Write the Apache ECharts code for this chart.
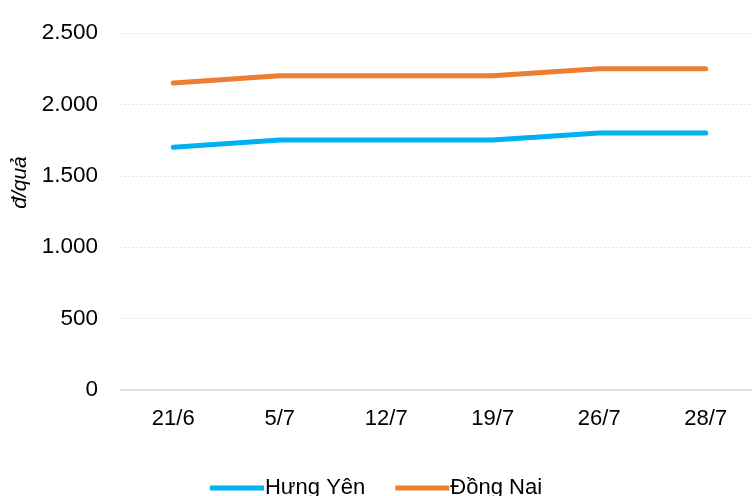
<!DOCTYPE html>
<html>
<head>
<meta charset="utf-8">
<script src="https://cdn.jsdelivr.net/npm/echarts@6/dist/echarts.min.js"></script>
<style>
  html, body { margin: 0; padding: 0; background: #fff; }
  #chart { width: 752px; height: 496px; }
</style>
</head>
<body>
<div id="chart"></div>
<script>
const categories = ['21/6', '5/7', '12/7', '19/7', '26/7', '28/7']
const hungYen = [1700, 1750, 1750, 1750, 1800, 1800]
const dongNai = [2150, 2200, 2200, 2200, 2250, 2250]

const chart = echarts.init(document.getElementById('chart'))
const font = 'Liberation Sans, Arial, sans-serif'

chart.setOption({
  animation: false,
  grid: {
    left: 120,
    right: -7,
    top: 33,
    bottom: 106,
    containLabel: false,
    outerBoundsMode: 'none'
  },
  legend: {
    top: 472,
    left: 'center',
    itemWidth: 54,
    itemHeight: 5,
    itemGap: 30,
    icon: 'rect',
    textStyle: { fontFamily: font, fontSize: 22, color: '#000', padding: [0, 0, 0, -4] },
    data: ['Hưng Yên', 'Đồng Nai']
  },
  xAxis: {
    type: 'category',
    data: categories,
    axisLine: { lineStyle: { color: '#d9d9d9', width: 1.5 } },
    axisTick: { show: false },
    axisLabel: { fontFamily: font, fontSize: 22, color: '#000', margin: 18 }
  },
  yAxis: {
    type: 'value',
    min: 0,
    max: 2500,
    interval: 500,
    name: 'đ/quả',
    nameLocation: 'middle',
    nameGap: 88,
    nameRotate: 90,
    nameTextStyle: { fontFamily: font, fontSize: 21, fontStyle: 'italic', color: '#000', padding: [0, 0, 0, 58] },
    axisLabel: {
      fontFamily: font,
      fontSize: 22.5,
      color: '#000',
      margin: 22,
      formatter: v => v.toLocaleString('de-DE')
    },
    splitLine: { lineStyle: { color: '#e6e6e6', type: [2, 2] } }
  },
  series: [
    {
      name: 'Hưng Yên',
      type: 'line',
      data: hungYen,
      symbol: 'none',
      lineStyle: { color: '#00b0f0', width: 5, cap: 'round' },
      itemStyle: { color: '#00b0f0' }
    },
    {
      name: 'Đồng Nai',
      type: 'line',
      data: dongNai,
      symbol: 'none',
      lineStyle: { color: '#ed7d31', width: 5, cap: 'round' },
      itemStyle: { color: '#ed7d31' }
    }
  ]
})
</script>
</body>
</html>
